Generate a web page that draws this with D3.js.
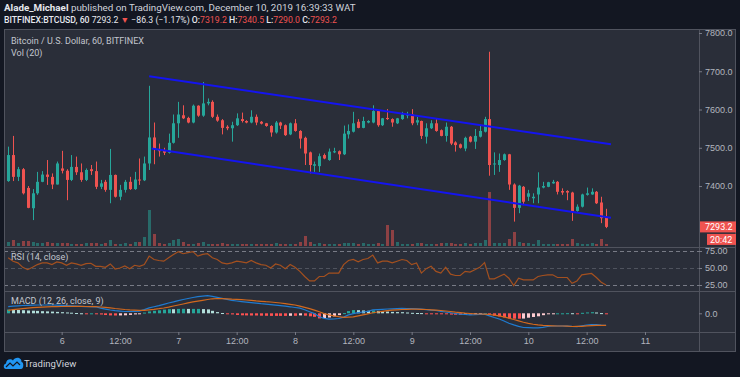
<!DOCTYPE html>
<html>
<head>
<meta charset="utf-8">
<script src="https://cdn.jsdelivr.net/npm/d3@7"></script>
<style>
body { margin: 0; background: #131722; }
svg { display: block; font-family: Roboto, "Liberation Sans", sans-serif; }
</style>
</head>
<body>
<svg id="chart" width="740" height="377"></svg>
<script>
// hourly BITFINEX:BTCUSD candles, first bar Dec 5 13:00
var startTime = new Date(Date.UTC(2019, 11, 5, 13));

var opens = [7413,7481,7424,7444,7395,7342,7381,7411,7430,7424, 7404,7446,7440,7416,7450,7436,7416,7444,7439,7398,
  7411,7390,7429,7372,7390,7411,7392,7417,7415,7459, 7527,7497,7494,7487,7513,7564,7585,7578,7566,7610,
  7584,7616,7620,7581,7572,7555,7551,7559,7575,7570, 7566,7581,7568,7564,7557,7540,7566,7559,7535,7564,
  7544,7526,7488,7453,7452,7481,7468,7488,7491,7483, 7535,7542,7568,7552,7566,7566,7596,7559,7578,7575,
  7564,7575,7585,7587,7566,7570,7529,7551,7564,7546, 7531,7555,7514,7509,7498,7529,7516,7529,7542,7575,
  7457,7455,7468,7483,7404,7343,7398,7372,7368,7378, 7396,7398,7407,7411,7387,7387,7383,7335,7346,7377,
  7378,7385,7357,7319.2];
var highs = [7503,7531,7450,7447,7400,7392,7437,7439,7468,7433, 7464,7492,7444,7481,7477,7459,7446,7455,7464,7416,
  7416,7497,7430,7403,7416,7424,7437,7472,7477,7662, 7566,7511,7500,7537,7587,7620,7611,7581,7613,7611,
  7672,7629,7624,7587,7575,7559,7568,7590,7592,7572, 7598,7587,7570,7565,7559,7570,7568,7561,7566,7575,
  7546,7529,7490,7464,7485,7485,7498,7500,7493,7558, 7561,7594,7575,7581,7572,7611,7598,7578,7601,7577,
  7578,7594,7594,7601,7581,7571,7564,7572,7575,7548, 7566,7557,7517,7511,7529,7531,7549,7559,7581,7751,
  7488,7485,7485,7484,7407,7403,7400,7390,7381,7436, 7411,7411,7416,7413,7394,7389,7385,7352,7380,7396,
  7394,7387,7372,7340.5];
var lows = [7411,7413,7413,7378,7342,7311,7377,7410,7403,7392, 7404,7433,7363,7413,7429,7411,7413,7429,7392,7392,
  7385,7355,7370,7363,7383,7390,7390,7403,7413,7442, 7457,7477,7481,7485,7511,7526,7575,7564,7564,7581,
  7581,7611,7578,7568,7535,7546,7516,7557,7566,7564, 7564,7559,7561,7555,7529,7537,7549,7531,7533,7542,
  7498,7455,7433,7437,7437,7470,7466,7486,7468,7481, 7524,7540,7551,7551,7564,7564,7555,7557,7573,7555,
  7562,7573,7577,7559,7559,7523,7511,7549,7542,7530, 7516,7507,7490,7498,7491,7514,7497,7527,7540,7427,
  7429,7437,7466,7390,7307,7329,7350,7361,7355,7355, 7394,7397,7406,7378,7377,7363,7309,7333,7344,7375,
  7377,7353,7303,7290.0];
var closes = [7481,7424,7444,7381,7343,7381,7411,7430,7424,7404, 7459,7440,7416,7450,7436,7416,7442,7439,7398,7407,
  7390,7429,7372,7390,7411,7392,7417,7415,7459,7527, 7497,7491,7487,7513,7564,7587,7577,7566,7610,7584,
  7616,7620,7581,7571,7552,7551,7559,7577,7570,7566, 7581,7566,7563,7557,7540,7566,7558,7533,7564,7544,
  7524,7485,7455,7457,7478,7472,7490,7491,7483,7537, 7544,7564,7552,7570,7570,7596,7559,7577,7575,7566,
  7577,7587,7587,7564,7572,7531,7551,7564,7544,7531, 7555,7511,7507,7500,7526,7516,7531,7544,7575,7455,
  7459,7468,7483,7404,7343,7401,7359,7381,7372,7396, 7400,7410,7411,7385,7383,7383,7333,7346,7378,7381,
  7385,7355,7316,7293.2];
var volumes = [40,60,30,50,50,40,30,30,40,30, 30,30,30,20,20,20,30,30,30,20, 30,60,20,20,30,20,40,40,90,360,
  120,30,20,30,60,70,40,20,20,30, 40,20,20,20,30,20,20,20,20,20, 20,20,20,20,20,30,20,20,20,20,
  40,100,40,20,30,20,20,20,20,30, 30,30,20,30,20,20,30,20,210,160, 40,20,20,20,30,30,20,20,20,30,
  30,30,20,20,30,20,30,30,60,540, 30,30,30,70,140,40,30,30,20,60, 20,20,20,20,20,20,70,30,20,20,
  30,20,70,20];
var rsiValues = [65,60,57.5,51,47.5,51,55,57.5,57.5,55, 59,57.5,54,57.5,56,54,56.5,57,52.5,52.5,
  51,56,48.5,50,53,49,54,52.5,55,67.5, 62.5,61,60,65,70,74,71,72.5,74,67.5,
  70,71,65,62.5,57.5,56,57.5,60,59,57.5, 61,57.5,55,54,50,56,54,49,55,51,
  45,37.5,31,31,37.5,37.5,42.5,42.5,42.5,55, 61,62.5,59,62.5,64,69,57.5,60,60,57.5,
  60,62.5,61,55,57.5,42.5,49,52.5,45,42.5, 51,41,39,39,45,44,47.5,51,58,34,
  34,37.5,41,35,24,35,32.5,32.5,32.5,37.5, 39,40,40,36,36,36,27.5,31,40,41,
  42,36,29,25];
var macdLine = [16.8,17.8,18.8,19.5,20,20.5,20.8,20.8,20.8,20.8, 20.3,19.8,19.3,18.8,18,17.3,16.8,16.8,16.3,12.8,
  10.5,8.3,6.5,5.5,4.5,4.5,5,5.5,9.3,13.5, 16.3,19,22.5,25.8,28.5,31.8,34.5,37,39.5,41.5,
  43,44.3,42.5,40,37.5,35,32.5,30.8,29.3,28, 26.8,25.5,24,22.8,21.8,20.5,19.3,17.8,16.3,14.5,
  12.8,8.8,4,-0.8,-8.8,-12.5,-14.5,-14.3,-13,-9.5, -4,-0.8,1.5,3.3,5,8.5,9.3,10,10.8,11.3,
  11.8,12.3,12,11.5,11,10.5,9.3,8,7,5, 3.3,1.3,-0.5,-2,-3,-4,-3.5,-2.5,-2,-6.3,
  -10.5,-14.3,-19.3,-25,-29,-32.5,-35.5,-36,-36.5,-36.5, -35,-33,-31.8,-31.8,-31.8,-32,-32.8,-33.3,-31.3,-29.3,
  -28,-28.3,-29.5,-30.3];
var signalLine = [7.5,9,10.5,11.8,13,14,14.8,15.5,16,16.5, 16.8,17,17.2,17.3,17.3,17.2,17,16.8,16.5,15.8,
  14.8,13.5,12,10.8,9.5,8.5,7.8,7.3,7.5,8.8, 10,11.5,13.3,15.5,18.3,20.8,23.3,26,28.5,30.5,
  32.5,34.5,36.3,37,36.8,36,35.3,35,34.3,33.3, 32.3,31,30,29,28.3,27,25.8,24.3,22.5,20.8,
  18,14.8,11.5,8,4,-0.8,-4,-6.5,-8.5,-10, -9.5,-8.8,-6.3,-3.8,-1.3,1.3,3.3,5,6.5,7.8,
  8.8,9.5,10,10.3,10.3,10,9.5,8.8,8,7, 5.8,4.5,3,1.8,0.5,-0.5,-1.3,-1.8,-2,-3,
  -4.5,-6.5,-9,-12,-15.5,-19,-22.3,-25,-27.3,-29, -30.3,-31,-31.5,-31.8,-31.8,-32.3,-33,-32.8,-32.5,-31.5,
  -30.8,-30.3,-30,-30];

// channel drawn by the author: [time, price] end points
var channelLines = [
  [[new Date(Date.UTC(2019, 11, 6, 18)), 7687], [new Date(Date.UTC(2019, 11, 10, 17)), 7509]],
  [[new Date(Date.UTC(2019, 11, 6, 18, 30)), 7498], [new Date(Date.UTC(2019, 11, 10, 17)), 7317]]
];
var priceTicks = [7400, 7500, 7600, 7700, 7800];
var rsiTicks = [25, 50, 75];
var lastPrice = 7293.2, countdown = "20:42";

var upColor = "#26a69a", downColor = "#ef5350";
var svg = d3.select("#chart");

// note: "top" clashes with window.top, so the pane edges get their own names
var paneLeft = 4, paneRight = 736, axisX = 699, paneTop = 29, paneBottom = 352;
var mainBottom = 247, rsiBottom = 291, macdBottom = 332;

svg.append("rect").attr("width", 740).attr("height", 377).attr("fill", "#131722");
svg.append("rect").attr("x", paneLeft).attr("y", paneTop)
  .attr("width", paneRight - paneLeft).attr("height", paneBottom - paneTop)
  .attr("fill", "#2a2e39");

var times = closes.map(function(d, i) { return d3.utcHour.offset(startTime, i); });
var bars = closes.map(function(d, i) {
  return {t: times[i], o: opens[i], h: highs[i], l: lows[i], c: d, v: volumes[i],
    rsi: rsiValues[i], macd: macdLine[i], sig: signalLine[i], hist: macdLine[i] - signalLine[i]};
});

var x = d3.scaleUtc().domain([times[0], times[times.length - 1]]).range([8.2, 606.1]);
var y = d3.scaleLinear().domain([7300, 7800]).range([224.3, 33]);
var yVol = d3.scaleLinear().domain([0, 540]).range([246, 192]);
var yRsi = d3.scaleLinear().domain([25, 75]).range([285, 251]);
var yMacd = d3.scaleLinear().domain([-40, 40]).range([329.3, 297.3]);

// clip paths for each pane
var defs = svg.append("defs");
function clip(id, y0, y1, x1) {
  defs.append("clipPath").attr("id", id).append("rect")
    .attr("x", paneLeft).attr("y", y0).attr("width", x1 - paneLeft).attr("height", y1 - y0);
}
clip("cMain", paneTop, mainBottom, axisX);
clip("cRsi", mainBottom, rsiBottom, axisX);
clip("cMacd", rsiBottom, macdBottom, axisX);
clip("cMainAx", paneTop, mainBottom, paneRight);
clip("cRsiAx", mainBottom, rsiBottom, paneRight);
clip("cMacdAx", rsiBottom, macdBottom, paneRight);

function px(d) { return Math.round(x(d.t)) + 0.5; }

// volume
var main = svg.append("g").attr("clip-path", "url(#cMain)");
main.selectAll("rect.vol").data(bars).enter().append("rect")
  .attr("class", "vol")
  .attr("x", function(d) { return px(d) - 1.5; })
  .attr("width", 3)
  .attr("y", function(d) { return yVol(d.v); })
  .attr("height", function(d) { return yVol(0) - yVol(d.v); })
  .attr("fill", function(d) { return d.c >= d.o ? upColor : downColor; })
  .attr("opacity", 0.5);

// candles
var candle = main.selectAll("g.candle").data(bars).enter().append("g").attr("class", "candle");
candle.append("line")
  .attr("x1", px).attr("x2", px)
  .attr("y1", function(d) { return y(d.h); })
  .attr("y2", function(d) { return y(d.l); })
  .attr("stroke", function(d) { return d.c >= d.o ? upColor : downColor; })
  .attr("stroke-width", 1);
candle.append("rect")
  .attr("x", function(d) { return px(d) - 1.5; })
  .attr("width", 3)
  .attr("y", function(d) { return y(Math.max(d.o, d.c)); })
  .attr("height", function(d) { return Math.max(1, Math.abs(y(d.o) - y(d.c))); })
  .attr("fill", function(d) { return d.c >= d.o ? upColor : downColor; });

// channel
main.selectAll("line.channel").data(channelLines).enter().append("line")
  .attr("x1", function(d) { return x(d[0][0]); })
  .attr("y1", function(d) { return y(d[0][1]); })
  .attr("x2", function(d) { return x(d[1][0]); })
  .attr("y2", function(d) { return y(d[1][1]); })
  .attr("stroke", "#1414f0")
  .attr("stroke-width", 2);

// RSI pane
var rsiG = svg.append("g").attr("clip-path", "url(#cRsi)");
rsiG.selectAll("line.band").data(rsiTicks).enter().append("line")
  .attr("x1", paneLeft).attr("x2", axisX)
  .attr("y1", function(d) { return Math.round(yRsi(d)) + 0.5; })
  .attr("y2", function(d) { return Math.round(yRsi(d)) + 0.5; })
  .attr("stroke", function(d) { return d == 50 ? "#4f535e" : "#787b86"; })
  .attr("stroke-dasharray", "4,3");
rsiG.append("path").datum(bars)
  .attr("d", d3.line().x(function(d) { return x(d.t); }).y(function(d) { return yRsi(d.rsi); }))
  .attr("fill", "none").attr("stroke", "#a4501f").attr("stroke-width", 1.2);

// MACD pane
var macdG = svg.append("g").attr("clip-path", "url(#cMacd)");
macdG.selectAll("rect.hist").data(bars).enter().append("rect")
  .attr("class", "hist")
  .attr("x", function(d) { return px(d) - 1.5; })
  .attr("width", 3)
  .attr("y", function(d) { return Math.min(yMacd(d.hist), yMacd(0)); })
  .attr("height", function(d) { return Math.max(1, Math.abs(yMacd(d.hist) - yMacd(0))); })
  .attr("fill", function(d, i) {
    var prev = i > 0 ? bars[i - 1].hist : d.hist;
    if (d.hist >= 0) return d.hist >= prev ? upColor : "#b2dfdb";
    return d.hist <= prev ? "#ff5252" : "#ffcdd2";
  });
macdG.append("path").datum(bars)
  .attr("d", d3.line().x(function(d) { return x(d.t); }).y(function(d) { return yMacd(d.macd); }))
  .attr("fill", "none").attr("stroke", "#1f7bd0").attr("stroke-width", 1.2);
macdG.append("path").datum(bars)
  .attr("d", d3.line().x(function(d) { return x(d.t); }).y(function(d) { return yMacd(d.sig); }))
  .attr("fill", "none").attr("stroke", "#d2691e").attr("stroke-width", 1.2);

// pane borders
var border = "#50535e";
svg.append("rect").attr("x", paneLeft + 0.5).attr("y", paneTop + 0.5)
  .attr("width", paneRight - paneLeft - 1).attr("height", paneBottom - paneTop - 1)
  .attr("fill", "none").attr("stroke", border);
[mainBottom, rsiBottom, macdBottom].forEach(function(v) {
  svg.append("line").attr("x1", paneLeft).attr("x2", paneRight).attr("y1", v + 0.5).attr("y2", v + 0.5).attr("stroke", border);
});
svg.append("line").attr("x1", axisX + 0.5).attr("x2", axisX + 0.5).attr("y1", paneTop).attr("y2", paneBottom).attr("stroke", border);

function styleAxis(g) {
  g.select(".domain").remove();
  g.selectAll(".tick line").attr("stroke", "#787b86");
  g.selectAll("text").attr("fill", "#b2b5be").attr("font-size", "9px").attr("font-family", null);
}

// price axis
svg.append("g").attr("clip-path", "url(#cMainAx)").append("g")
  .attr("transform", "translate(" + axisX + ",0)")
  .call(d3.axisRight(y).tickValues(priceTicks).tickSize(3).tickPadding(3).tickFormat(d3.format(".1f")))
  .call(styleAxis);
svg.append("g").attr("clip-path", "url(#cRsiAx)").append("g")
  .attr("transform", "translate(" + axisX + ",0)")
  .call(d3.axisRight(yRsi).tickValues(rsiTicks).tickSize(3).tickPadding(3).tickFormat(d3.format(".2f")))
  .call(styleAxis);
svg.append("g").attr("clip-path", "url(#cMacdAx)").append("g")
  .attr("transform", "translate(" + axisX + ",0)")
  .call(d3.axisRight(yMacd).tickValues([0]).tickSize(3).tickPadding(3).tickFormat(d3.format(".1f")))
  .call(styleAxis);

// time axis
var timeTicks = d3.utcHour.every(12).range(new Date(Date.UTC(2019, 11, 6)), new Date(Date.UTC(2019, 11, 11, 1)));
svg.append("g")
  .attr("transform", "translate(0," + macdBottom + ")")
  .call(d3.axisBottom(x).tickValues(timeTicks).tickSize(3).tickPadding(3)
    .tickFormat(function(d) { return d.getUTCHours() == 0 ? d.getUTCDate() : "12:00"; }))
  .call(styleAxis);

// last price and countdown labels
var ly = y(lastPrice);
svg.append("rect").attr("x", axisX + 1).attr("y", ly - 5.5).attr("width", paneRight - axisX - 1).attr("height", 11).attr("fill", downColor);
svg.append("text").attr("x", axisX + 6).attr("y", ly).attr("dy", "0.35em").attr("fill", "#fff")
  .attr("font-size", "9px").text(lastPrice.toFixed(1));
svg.append("rect").attr("x", 707).attr("y", ly + 7).attr("width", paneRight - 707).attr("height", 11).attr("fill", downColor);
svg.append("text").attr("x", 710).attr("y", ly + 12.5).attr("dy", "0.35em").attr("fill", "#fff")
  .attr("font-size", "9px").text(countdown);

// pane titles
var titles = [["Bitcoin / U.S. Dollar, 60, BITFINEX", 44], ["Vol (20)", 56],
  ["RSI (14, close)", 260], ["MACD (12, 26, close, 9)", 304]];
svg.selectAll("text.title").data(titles).enter().append("text")
  .attr("x", 11).attr("y", function(d) { return d[1]; })
  .attr("fill", "#c3c6ce").attr("font-size", "9px")
  .text(function(d) { return d[0]; });

// header
var h1 = svg.append("text").attr("x", 4).attr("y", 11).attr("font-size", "9.8px").attr("fill", "#d1d4dc");
h1.append("tspan").attr("font-weight", "bold").attr("fill", "#e6e8ee").text("Alade_Michael");
h1.append("tspan").text(" published on TradingView.com, December 10, 2019 16:39:33 WAT");

var red = "#ef5350";
var h2parts = [["BITFINEX:BTCUSD, 60 ", "#e6e8ee", "500"], ["7293.2 ", "#e6e8ee"], ["▼", red],
  [" \u221286.3 (\u22121.17%) ", "#e6e8ee"], ["O:", "#e6e8ee", "500"], ["7319.2", red],
  [" H:", "#e6e8ee", "500"], ["7340.5", red], [" L:", "#e6e8ee", "500"], ["7290.0", red],
  [" C:", "#e6e8ee", "500"], ["7293.2", red]];
var h2 = svg.append("text").attr("x", 4).attr("y", 23).attr("font-size", "8.7px");
h2parts.forEach(function(p) {
  h2.append("tspan").attr("fill", p[1]).attr("font-weight", p[2] || null).text(p[0]);
});

// TradingView logo
var logo = svg.append("g").attr("transform", "translate(4,356)");
logo.append("path")
  .attr("d", "M2,13 C-1,13 -1,8 2,7.5 C2,3 7,2 9,4.5 C11,0 18,1 17.5,6 C20,6 20,13 17,13 Z")
  .attr("fill", "#2196f3");
logo.append("path").attr("d", "M2,11 L6,7 L9,10 L13,6 L16,9")
  .attr("fill", "none").attr("stroke", "#131722").attr("stroke-width", 1.2);
svg.append("text").attr("x", 24).attr("y", 367).attr("fill", "#d1d4dc").attr("font-size", "9.5px").text("TradingView");
</script>
</body>
</html>
